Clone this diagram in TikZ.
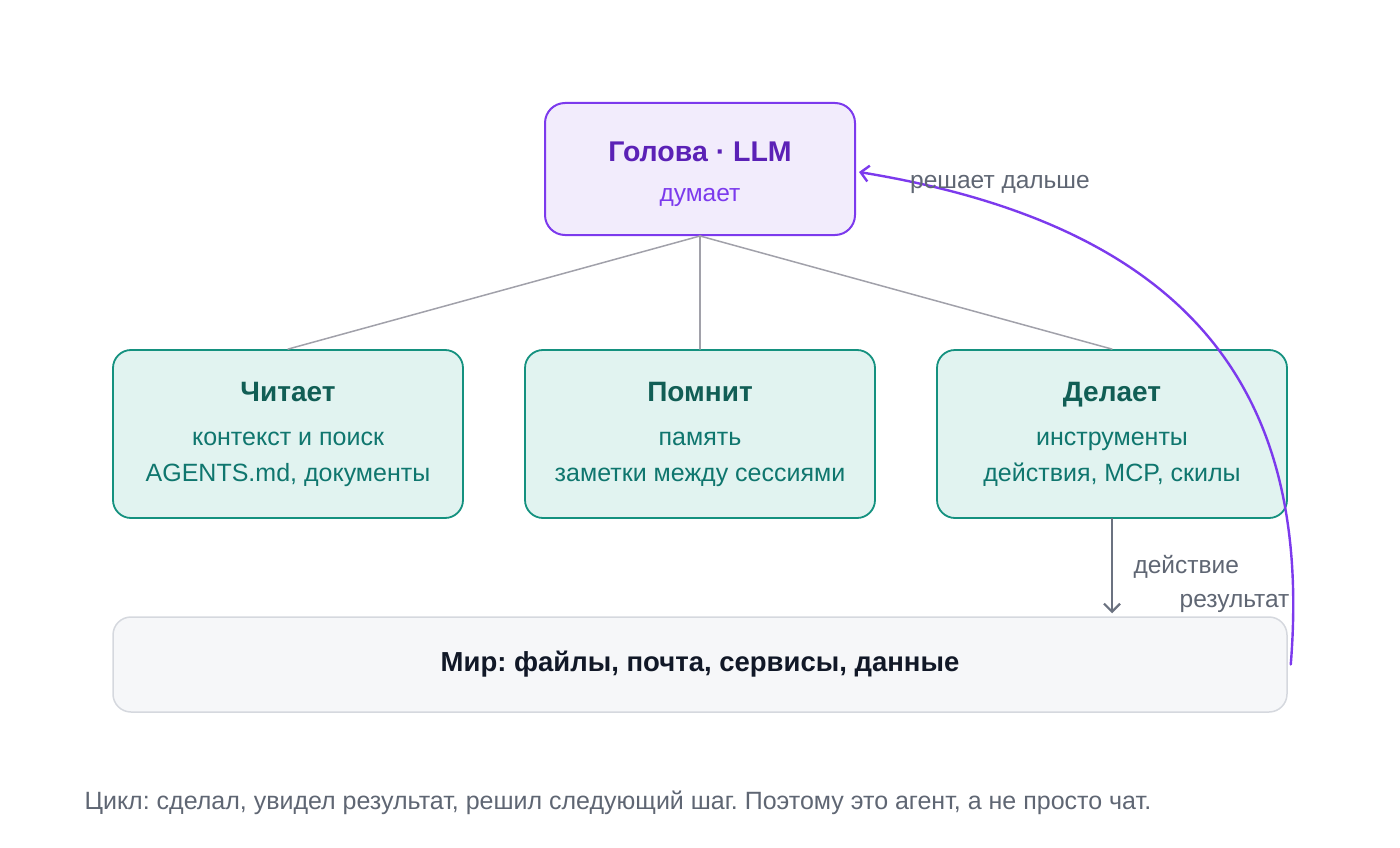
\documentclass[tikz,border=0pt]{standalone}
\usepackage{fontspec}
\setmainfont{Liberation Sans}
\usetikzlibrary{arrows.meta, positioning}
\definecolor{headline}{HTML}{7C3AED}
\definecolor{headfill}{HTML}{F2ECFC}
\definecolor{headtitle}{HTML}{5B21B6}
\definecolor{partline}{HTML}{14917F}
\definecolor{partfill}{HTML}{E1F3F0}
\definecolor{parttitle}{HTML}{115E55}
\definecolor{parttext}{HTML}{0F766E}
\definecolor{worldline}{HTML}{D5D8DE}
\definecolor{worldfill}{HTML}{F6F7F9}
\definecolor{worldtext}{HTML}{111827}
\definecolor{linkgray}{HTML}{A1A1AA}
\definecolor{arrowgray}{HTML}{6B7280}
\definecolor{lblgray}{HTML}{5F6673}
\frenchspacing

\begin{document}
\begin{tikzpicture}[
  x=1pt, y=-1pt, line cap=round, line join=round,
  headbox/.style={draw=headline, fill=headfill, line width=2pt, rounded corners=20pt,
    minimum width=310pt, minimum height=132pt, inner sep=0pt, align=center,
    text=headline, font=\fontsize{24.5}{36}\selectfont},
  partbox/.style={draw=partline, fill=partfill, line width=1.8pt, rounded corners=18pt,
    minimum width=350pt, minimum height=168pt, inner sep=0pt, align=center,
    text=parttext, font=\fontsize{25}{36}\selectfont},
  worldbox/.style={draw=worldline, fill=worldfill, line width=1.5pt, rounded corners=18pt,
    minimum width=1174pt, minimum height=95pt, inner sep=0pt,
    text=worldtext, font=\fontsize{27.5}{32}\selectfont\bfseries},
  link/.style={draw=linkgray, line width=1.5pt},
  lbl/.style={text=lblgray, font=\fontsize{24.5}{28}\selectfont},
]
\path[use as bounding box] (0,0) rectangle (1400,848);

% Head
\node[headbox] (head) at (700,169)
  {{\rule{0pt}{30pt}\fontsize{28.5}{36}\selectfont\bfseries\color{headtitle}Голова · LLM}\\[4pt] думает};

% Parts
\node[partbox] (read) at (288,434)
  {{\fontsize{28}{36}\selectfont\bfseries\color{parttitle}Читает}\\[8pt]
   контекст и поиск\\ AGENTS.md, документы};
\node[partbox] (keep) at (700,434)
  {{\fontsize{28}{36}\selectfont\bfseries\color{parttitle}Помнит}\\[8pt]
   память\\ заметки между сессиями};
\node[partbox] (act) at (1112,434)
  {{\fontsize{28}{36}\selectfont\bfseries\color{parttitle}Делает}\\[8pt]
   инструменты\\ действия, MCP, скилы};

\draw[link] (head.south) -- (read.north);
\draw[link] (head.south) -- (keep.north);
\draw[link] (head.south) -- (act.north);

% World
\node[worldbox] (world) at (700,664.5) {Мир: файлы, почта, сервисы, данные};

\draw[arrowgray, line width=2.2pt, -{Straight Barb[length=8pt, width=16pt]}, shorten >=3pt]
  (act.south) -- (act.south |- world.north);
\node[lbl, anchor=west] (actlbl) at (1130,567) {действие};
\node[lbl, anchor=east] (reslbl) at (1293,603) {результат};

% Loop back
\draw[headline, line width=2.4pt, -{Straight Barb[length=8pt, width=16pt]}]
  ([xshift=3pt]world.east) .. controls (1312,400) and (1200,228) .. ([xshift=3pt, yshift=-3pt]head.east);
\node[lbl] (nextlbl) at (1000,184) {решает дальше};

\node[lbl, anchor=west, text=lblgray, font=\fontsize{25}{30}\selectfont] (note) at (81,803)
  {Цикл: сделал, увидел результат, решил следующий шаг. Поэтому это агент, а не просто чат.};

\end{tikzpicture}
\end{document}
